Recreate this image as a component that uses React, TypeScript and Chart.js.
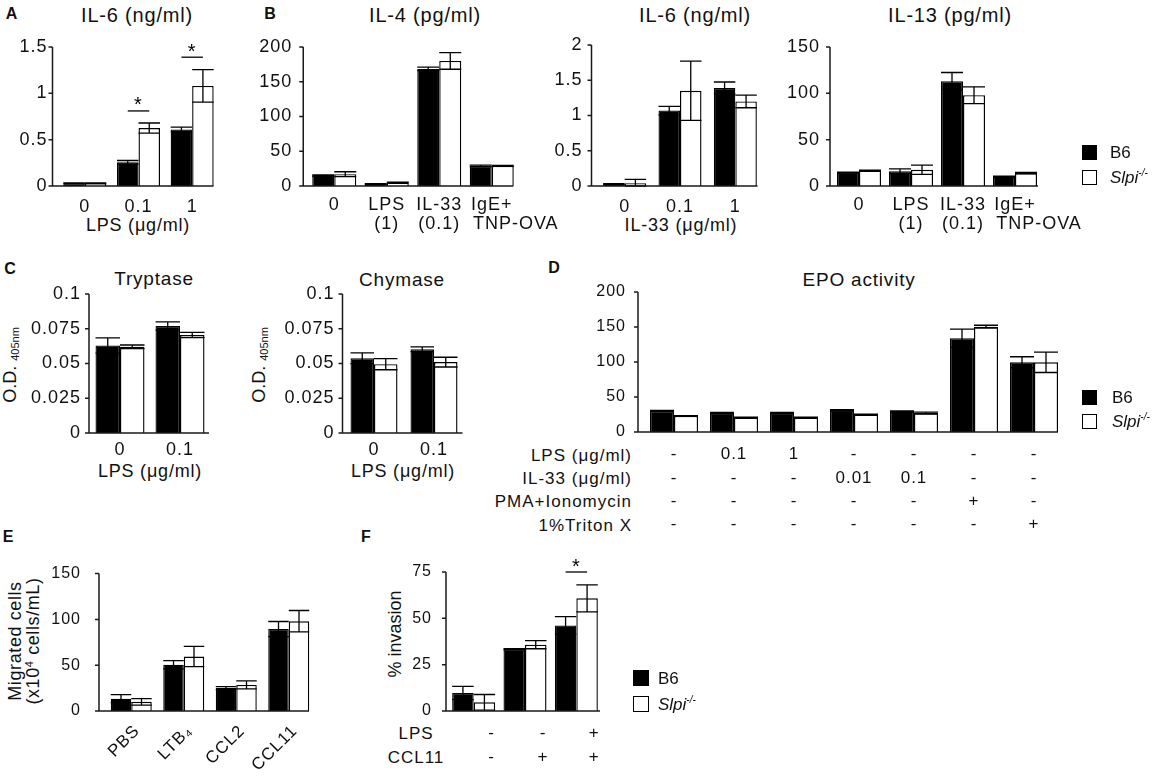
import React, { useEffect, useRef } from 'react';
import { Chart, registerables } from 'chart.js';

Chart.register(...registerables);

const FONT = '"Liberation Sans", Arial, Helvetica, sans-serif';

// ---------- data ----------
const doseCats = ['0', '0.1', '1'];
// second line of the last label starts under "IgE+", as in the figure
const stimCats = [['0'], ['LPS', '(1)'], ['IL-33', '(0.1)'], ['IgE+', '        TNP-OVA']];
const lpsCats = ['0', '0.1'];

// A: IL-6 after LPS
const aB6 = [0.03, 0.255, 0.61];
const aB6Err = [0.004, 0.02, 0.025];
const aKO = [0.03, 0.625, 1.08];
const aKOErr = [0.004, 0.055, 0.175];
const aSigCats = [1, 2];
const aSigLevels = [0.81, 1.39];

// B: IL-4
const il4B6 = [15, 3, 168.5, 29];
const il4B6Err = [1, 0.5, 2.5, 1];
const il4KO = [17, 5, 180, 29];
const il4KOErr = [3.5, 0.5, 12, 0.8];

// B: IL-6 after IL-33
const il6B6 = [0.03, 1.07, 1.39];
const il6B6Err = [0.005, 0.06, 0.085];
const il6KO = [0.04, 1.35, 1.2];
const il6KOErr = [0.055, 0.42, 0.09];

// B: IL-13
const il13B6 = [14.5, 16, 113, 10];
const il13B6Err = [0.5, 2.5, 9.5, 0.5];
const il13KO = [16.5, 17.5, 98, 14];
const il13KOErr = [0.6, 5, 9, 0.8];

// C: proteases
const tryB6 = [0.063, 0.077];
const tryB6Err = [0.0055, 0.003];
const tryKO = [0.062, 0.0705];
const tryKOErr = [0.0013, 0.0019];
const chyB6 = [0.0538, 0.0603];
const chyB6Err = [0.0039, 0.0017];
const chyKO = [0.0495, 0.051];
const chyKOErr = [0.004, 0.0035];

// D: EPO activity
const epoLps = ['-', '0.1', '1', '-', '-', '-', '-'];
const epoIl33 = ['-', '-', '-', '0.01', '0.1', '-', '-'];
const epoPma = ['-', '-', '-', '-', '-', '+', '-'];
const epoTriton = ['-', '-', '-', '-', '-', '-', '+'];
const epoRowNames = ['LPS (\u03bcg/ml)', 'IL-33 (\u03bcg/ml)', 'PMA+Ionomycin', '1%Triton X'];
const epoB6 = [30, 27, 27, 31, 29, 134, 99.5];
const epoB6Err = [1, 1, 1, 1, 1, 13, 8];
const epoKO = [23, 20.5, 20.5, 25, 27, 150.5, 99.5];
const epoKOErr = [0.5, 0.8, 0.8, 0.5, 1.5, 2, 14.5];

// E: migration
const migCats = ['PBS', 'LTB\u2084', 'CCL2', 'CCL11'];
const migB6 = [13.5, 50.5, 25, 89.5];
const migB6Err = [4.3, 4.5, 1.7, 8.2];
const migKO = [10, 59.5, 28.5, 98];
const migKOErr = [3.5, 11, 4.3, 11.7];

// F: invasion
const invLps = ['-', '-', '+'];
const invCcl = ['-', '+', '+'];
const invRowNames = ['LPS', 'CCL11'];
const invB6 = [9.7, 33.3, 46.2];
const invB6Err = [3.6, 0.3, 4.7];
const invKO = [4.7, 35.8, 60.8];
const invKOErr = [4.2, 2.2, 7.3];
const fSigCats = [2];
const fSigLevels = [75];

const epoCats = epoLps.map((v, i) => [v, epoIl33[i], epoPma[i], epoTriton[i]]);
const invCats = invLps.map((v, i) => [v, invCcl[i]]);

// ---------- plugins ----------
const spacingPlugin = {
  id: 'spacing',
  beforeUpdate(chart: any, _a: any, opts: any) {
    chart.ctx.letterSpacing = `${opts.px || 0}px`;
  },
  beforeDraw(chart: any, _a: any, opts: any) {
    chart.ctx.letterSpacing = `${opts.px || 0}px`;
  },
};

const errPlugin = {
  id: 'errbars',
  afterDatasetsDraw(chart: any, _a: any, opts: any) {
    const { ctx } = chart;
    const y = chart.scales.y;
    ctx.save();
    ctx.strokeStyle = '#000';
    ctx.lineWidth = 1.3;
    (opts.errors || []).forEach((errs: number[], d: number) => {
      const meta = chart.getDatasetMeta(d);
      const vals = chart.data.datasets[d].data as number[];
      meta.data.forEach((bar: any, i: number) => {
        const e = errs[i];
        if (!e) return;
        const { x, width } = bar.getProps(['x', 'width'], true);
        const yt = y.getPixelForValue(vals[i] + e);
        const yb = y.getPixelForValue(Math.max(vals[i] - e, 0));
        const hw = width / 2;
        ctx.beginPath();
        ctx.moveTo(x, yb);
        ctx.lineTo(x, yt);
        ctx.moveTo(x - hw, yt);
        ctx.lineTo(x + hw, yt);
        ctx.moveTo(x - hw, yb);
        ctx.lineTo(x + hw, yb);
        ctx.stroke();
      });
    });
    ctx.restore();
  },
};

const sigPlugin = {
  id: 'sig',
  afterDatasetsDraw(chart: any, _a: any, opts: any) {
    const cats: number[] = opts.cats || [];
    if (!cats.length) return;
    const { ctx } = chart;
    const y = chart.scales.y;
    const m0 = chart.getDatasetMeta(0);
    const m1 = chart.getDatasetMeta(1);
    ctx.save();
    ctx.strokeStyle = '#000';
    ctx.fillStyle = '#000';
    ctx.lineWidth = 1.3;
    ctx.font = `20px ${FONT}`;
    ctx.textAlign = 'center';
    ctx.textBaseline = 'alphabetic';
    cats.forEach((c, k) => {
      const b0 = m0.data[c];
      const b1 = m1.data[c];
      const cx = (b0.x + b1.x) / 2;
      const hw = b0.width / 2;
      const py = y.getPixelForValue(opts.levels[k]);
      ctx.beginPath();
      ctx.moveTo(cx - hw, py);
      ctx.lineTo(cx + hw, py);
      ctx.stroke();
      ctx.fillText('*', cx, py + 0.5);
    });
    ctx.restore();
  },
};

const axesPlugin = {
  id: 'axesLines',
  afterDatasetsDraw(chart: any, _a: any, opts: any) {
    const { ctx, chartArea: ca } = chart;
    const y = chart.scales.y;
    const x0 = ca.left - opts.shift;
    ctx.save();
    ctx.strokeStyle = '#1a1a1a';
    ctx.lineWidth = 1.5;
    ctx.beginPath();
    ctx.moveTo(x0, y.getPixelForValue(y.max));
    ctx.lineTo(x0, ca.bottom);
    ctx.lineTo(ca.right - opts.shift, ca.bottom);
    y.ticks.forEach((t: any) => {
      const py = y.getPixelForValue(t.value);
      ctx.moveTo(x0 - 4, py);
      ctx.lineTo(x0, py);
    });
    ctx.stroke();
    ctx.restore();
  },
};

// ---------- panel ----------
type Cfg = {
  labels: any[];
  b6: number[];
  b6Err: number[];
  ko: number[];
  koErr: number[];
  yMax: number;
  yStep: number;
  L: number;
  R: number;
  T: number;
  B: number;
  shift: number;
  gw: number;
  tickGap: number;
  tickSize: number;
  xSize: number;
  xPad: number;
  xLH: number;
  xH: number;
  rot?: number;
  labelOffset?: number;
  sigCats?: number[];
  sigLevels?: number[];
  ls?: number;
};

const Y_W = 90;
const PAD_T = 30;
const PAD_R = 60;

function BarPanel({ cfg }: { cfg: Cfg }) {
  const ref = useRef<HTMLCanvasElement>(null);
  const span = cfg.R - cfg.L;
  const cw = Math.round(span + Y_W + PAD_R);
  const ch = Math.round(PAD_T + (cfg.B - cfg.T) + cfg.xH);
  const left = cfg.L + cfg.shift - Y_W;
  const top = cfg.T - PAD_T;

  useEffect(() => {
    if (!ref.current) return;
    const catPct = cfg.gw / (span / cfg.labels.length);
    const rot = cfg.rot || 0;
    const chart = new Chart(ref.current, {
      type: 'bar',
      data: {
        labels: cfg.labels,
        datasets: [
          {
            label: 'B6',
            data: cfg.b6,
            backgroundColor: '#000',
            borderColor: '#000',
            borderWidth: 1.3,
            barPercentage: 1,
            categoryPercentage: catPct,
          },
          {
            label: 'Slpi-/-',
            data: cfg.ko,
            backgroundColor: '#fff',
            borderColor: '#000',
            borderWidth: 1.4,
            barPercentage: 1,
            categoryPercentage: catPct,
          },
        ],
      },
      options: {
        responsive: false,
        animation: false,
        events: [],
        layout: { padding: { top: PAD_T, right: PAD_R, left: 0, bottom: 0 } },
        plugins: {
          legend: { display: false },
          tooltip: { enabled: false },
          spacing: { px: cfg.ls ?? 1 },
          errbars: { errors: [cfg.b6Err, cfg.koErr] },
          sig: { cats: cfg.sigCats || [], levels: cfg.sigLevels || [] },
          axesLines: { shift: cfg.shift },
        } as any,
        scales: {
          x: {
            offset: true,
            grid: { display: false, drawTicks: false },
            border: { display: false },
            ticks: {
              color: '#111',
              font: { family: FONT, size: cfg.xSize, lineHeight: cfg.xLH },
              padding: cfg.xPad,
              autoSkip: false,
              maxRotation: rot,
              minRotation: rot,
              labelOffset: cfg.labelOffset || 0,
            },
            afterFit: (s: any) => {
              s.height = cfg.xH;
            },
          },
          y: {
            min: 0,
            max: cfg.yMax,
            grid: { display: false, drawTicks: false },
            border: { display: false },
            ticks: {
              stepSize: cfg.yStep,
              color: '#111',
              font: { family: FONT, size: cfg.tickSize },
              padding: cfg.shift + cfg.tickGap,
              callback: (v: any) => String(Math.round(Number(v) * 1000) / 1000),
            },
            afterFit: (s: any) => {
              s.width = Y_W;
            },
          },
        },
      },
      plugins: [spacingPlugin, errPlugin, sigPlugin, axesPlugin],
    });
    return () => {
      chart.destroy();
    };
  }, []);

  return (
    <canvas
      ref={ref}
      width={cw}
      height={ch}
      style={{ position: 'absolute', left, top, width: cw, height: ch }}
    />
  );
}

// ---------- text helpers ----------
type TProps = {
  x: number;
  y: number;
  s: number;
  children: React.ReactNode;
  bold?: boolean;
  rot?: boolean;
  anchor?: 'c' | 'l' | 'r';
  ls?: number;
  lh?: number;
};

function T({ x, y, s, children, bold, rot, anchor = 'c', ls = 0, lh = 1 }: TProps) {
  const tx = anchor === 'c' ? '-50%' : anchor === 'r' ? '-100%' : '0';
  return (
    <div
      style={{
        position: 'absolute',
        left: x,
        top: y,
        transform: `translate(${tx}, -50%)${rot ? ' rotate(-90deg)' : ''}`,
        fontSize: s,
        fontWeight: bold ? 700 : 400,
        whiteSpace: 'nowrap',
        lineHeight: lh,
        letterSpacing: ls,
        textAlign: 'center',
      }}
    >
      {children}
    </div>
  );
}

function Legend({ x, y, gap, tx, size = 15 }: { x: number; y: number; gap: number; tx: number; size?: number }) {
  return (
    <>
      <div
        style={{ position: 'absolute', left: x, top: y - size / 2, width: size, height: size, background: '#000' }}
      />
      <T x={tx} y={y} s={17} anchor="l">
        B6
      </T>
      <div
        style={{
          position: 'absolute',
          left: x,
          top: y + gap - size / 2,
          width: size,
          height: size,
          border: '1.4px solid #000',
          boxSizing: 'border-box',
          background: '#fff',
        }}
      />
      <T x={tx} y={y + gap} s={17} anchor="l">
        <i>Slpi</i>
        <i style={{ fontSize: 10, position: 'relative', top: -7 }}>-/-</i>
      </T>
    </>
  );
}

// ---------- panel configs ----------
const panelA: Cfg = {
  labels: doseCats, b6: aB6, b6Err: aB6Err, ko: aKO, koErr: aKOErr, yMax: 1.5, yStep: 0.5,
  L: 52, R: 213, T: 47, B: 186, shift: 5.5, gw: 43, tickGap: 5,
  tickSize: 18, xSize: 18, xPad: 12, xLH: 1.05, xH: 50, sigCats: aSigCats, sigLevels: aSigLevels,
};
const panelIL4: Cfg = {
  labels: stimCats, b6: il4B6, b6Err: il4B6Err, ko: il4KO, koErr: il4KOErr, yMax: 200, yStep: 50,
  L: 303, R: 513, T: 47, B: 186, shift: 4.75, gw: 44, tickGap: 11,
  tickSize: 18, xSize: 18, xPad: 10, xLH: 1.05, xH: 50,
};
const panelIL6: Cfg = {
  labels: doseCats, b6: il6B6, b6Err: il6B6Err, ko: il6KO, koErr: il6KOErr, yMax: 2, yStep: 0.5,
  L: 591, R: 757, T: 45, B: 186, shift: 5.5, gw: 43, tickGap: 9,
  tickSize: 18, xSize: 18, xPad: 12, xLH: 1.05, xH: 50,
};
const panelIL13: Cfg = {
  labels: stimCats, b6: il13B6, b6Err: il13B6Err, ko: il13KO, koErr: il13KOErr, yMax: 150, yStep: 50,
  L: 830, R: 1038, T: 47, B: 186, shift: 3, gw: 44, tickGap: 10,
  tickSize: 18, xSize: 18, xPad: 10, xLH: 1.05, xH: 50,
};
const panelTry: Cfg = {
  labels: lpsCats, b6: tryB6, b6Err: tryB6Err, ko: tryKO, koErr: tryKOErr, yMax: 0.1, yStep: 0.025,
  L: 89, R: 209, T: 294, B: 433, shift: 1, gw: 49, tickGap: 8,
  tickSize: 18, xSize: 18, xPad: 6, xLH: 1.2, xH: 40,
};
const panelChy: Cfg = {
  labels: lpsCats, b6: chyB6, b6Err: chyB6Err, ko: chyKO, koErr: chyKOErr, yMax: 0.1, yStep: 0.025,
  L: 342, R: 462, T: 294, B: 433, shift: 1.5, gw: 47, tickGap: 8,
  tickSize: 18, xSize: 18, xPad: 6, xLH: 1.2, xH: 40,
};
const panelEpo: Cfg = {
  labels: epoCats, b6: epoB6, b6Err: epoB6Err, ko: epoKO, koErr: epoKOErr, yMax: 200, yStep: 50,
  L: 638, R: 1058, T: 292, B: 432, shift: 6, gw: 48, tickGap: 12,
  tickSize: 16, xSize: 17, xPad: 11, xLH: 1.37, xH: 110,
};
const panelMig: Cfg = {
  labels: migCats, b6: migB6, b6Err: migB6Err, ko: migKO, koErr: migKOErr, yMax: 150, yStep: 50,
  L: 99, R: 309, T: 570, B: 711, shift: 6, gw: 41, tickGap: 18,
  tickSize: 16, xSize: 17, xPad: 10, xLH: 1.2, xH: 68, rot: 45, labelOffset: 6,
};
const panelInv: Cfg = {
  labels: invCats, b6: invB6, b6Err: invB6Err, ko: invKO, koErr: invKOErr, yMax: 75, yStep: 25,
  L: 446, R: 600, T: 572, B: 711, shift: 2, gw: 43, tickGap: 14,
  tickSize: 16, xSize: 17, xPad: 10, xLH: 1.41, xH: 68, labelOffset: 18,
  sigCats: fSigCats, sigLevels: fSigLevels,
};

export default function App() {
  return (
    <div
      style={{
        position: 'absolute',
        left: 0,
        top: 0,
        width: 1157,
        height: 779,
        background: '#fff',
        fontFamily: FONT,
        color: '#111',
        overflow: 'hidden',
      }}
    >
      {/* panel letters */}
      <T x={11.5} y={14} s={16} bold>A</T>
      <T x={270} y={14} s={16} bold>B</T>
      <T x={10} y={269} s={16} bold>C</T>
      <T x={554} y={268} s={16} bold>D</T>
      <T x={8} y={537} s={16} bold>E</T>
      <T x={366} y={537} s={16} bold>F</T>

      {/* titles */}
      <T x={137} y={15} s={20} ls={0.8}>IL-6 (ng/ml)</T>
      <T x={425} y={15} s={20} ls={0.8}>IL-4 (pg/ml)</T>
      <T x={695} y={15} s={20} ls={0.8}>IL-6 (ng/ml)</T>
      <T x={950} y={15} s={20} ls={0.8}>IL-13 (pg/ml)</T>
      <T x={154} y={278} s={19} ls={0.8}>Tryptase</T>
      <T x={402} y={279} s={19} ls={0.8}>Chymase</T>
      <T x={859} y={279} s={19} ls={0.8}>EPO activity</T>

      {/* x-axis titles */}
      <T x={138} y={225} s={18} ls={0.8}>LPS (&mu;g/ml)</T>
      <T x={681} y={225} s={18} ls={0.8}>IL-33 (&mu;g/ml)</T>
      <T x={150} y={471} s={18} ls={0.8}>LPS (&mu;g/ml)</T>
      <T x={403} y={471} s={18} ls={0.8}>LPS (&mu;g/ml)</T>

      {/* y-axis titles */}
      <T x={10} y={365} s={18} rot>
        O.D.<span style={{ fontSize: 11, position: 'relative', top: 3, marginLeft: 5 }}>405nm</span>
      </T>
      <T x={259} y={365} s={18} rot>
        O.D.<span style={{ fontSize: 11, position: 'relative', top: 3, marginLeft: 5 }}>405nm</span>
      </T>
      <T x={23.5} y={641} s={18} rot lh={1} ls={0.6}>
        Migrated cells
        <br />
        (x10<span style={{ fontSize: 11, position: 'relative', top: -6 }}>4</span> cells/mL)
      </T>
      <T x={395} y={634} s={18} rot>% invasion</T>

      {/* row headers of the treatment tables */}
      {epoRowNames.map((name, i) => (
        <T key={name} x={632} y={455 + i * 23.2} s={17} anchor="r" ls={1}>
          {name}
        </T>
      ))}
      {invRowNames.map((name, i) => (
        <T key={name} x={416} y={733 + i * 24} s={17} ls={1}>
          {name}
        </T>
      ))}

      <BarPanel cfg={panelA} />
      <BarPanel cfg={panelIL4} />
      <BarPanel cfg={panelIL6} />
      <BarPanel cfg={panelIL13} />
      <BarPanel cfg={panelTry} />
      <BarPanel cfg={panelChy} />
      <BarPanel cfg={panelEpo} />
      <BarPanel cfg={panelMig} />
      <BarPanel cfg={panelInv} />

      {/* legends */}
      <Legend x={1082} y={152} gap={25} tx={1110} />
      <Legend x={1082} y={397} gap={24} tx={1112} />
      <Legend x={633} y={678} gap={26} tx={658} size={16} />
    </div>
  );
}
